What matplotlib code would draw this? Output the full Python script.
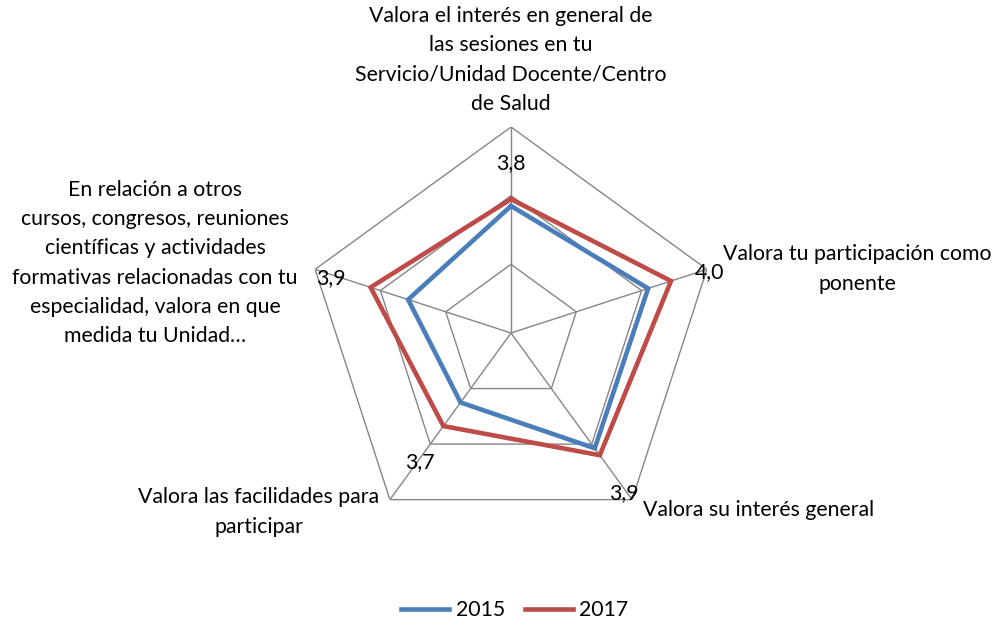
import numpy as np
import matplotlib
matplotlib.use("Agg")
import matplotlib.pyplot as plt

categories = [
    "Valora el interés en general de\nlas sesiones en tu\nServicio/Unidad Docente/Centro\nde Salud",
    "Valora tu participación como\nponente",
    "Valora su interés general",
    "Valora las facilidades para\nparticipar",
    "En relación a otros\ncursos, congresos, reuniones\ncientíficas y actividades\nformativas relacionadas con tu\nespecialidad, valora en que\nmedida tu Unidad…",
]
series_2015 = [3.74, 3.84, 3.83, 3.50, 3.63]
series_2017 = [3.78, 3.98, 3.88, 3.67, 3.86]
r_min, r_max = 3.0, 4.2
ring_ticks = [3.4, 3.8, 4.2]

W, H = 1002, 625
plt.rcParams['font.family'] = ['Lato', 'DejaVu Sans']
fig = plt.figure(figsize=(W / 100, H / 100), dpi=100)

cx, cy, R = 511, 333, 206
ax = fig.add_axes([(cx - R) / W, (H - cy - R) / H, 2 * R / W, 2 * R / H], polar=True)
ax.set_theta_offset(np.pi / 2)
ax.set_theta_direction(-1)
ax.set_ylim(r_min, r_max)
ax.axis('off')

n = len(categories)
theta = np.linspace(0, 2 * np.pi, n, endpoint=False)
theta_c = np.append(theta, theta[0])
grid_col = '#868686'
for t in ring_ticks:
    ax.plot(theta_c, [t] * (n + 1), color=grid_col, lw=1.0, zorder=1)
for th in theta:
    ax.plot([th, th], [r_min, r_max], color=grid_col, lw=1.0, zorder=1)

blue, red = '#4A7EBB', '#BE4B48'
ax.plot(theta_c, series_2015 + series_2015[:1], color=blue, lw=3.3, zorder=3,
        solid_joinstyle='miter', label='2015')
ax.plot(theta_c, series_2017 + series_2017[:1], color=red, lw=3.3, zorder=3,
        solid_joinstyle='miter', label='2017')

# category labels (pixel centres)
cat_pos = [(511, 60), (857, 269), (759, 510), (259, 512), (155, 263)]
fs = 15.3
for txt, (x, y) in zip(categories, cat_pos):
    fig.text(x / W, 1 - y / H, txt, ha='center', va='center', fontsize=fs,
             linespacing=1.58, color='#000000')

# data labels of 2017
lab_pos = [(511, 163), (710, 272), (624, 493), (420, 462), (331, 278)]
for v, (x, y) in zip(series_2017, lab_pos):
    fig.text(x / W, 1 - y / H, f"{v:.1f}".replace('.', ','), ha='center', va='center',
             fontsize=fs, color='#000000')

leg = fig.legend(loc='center', bbox_to_anchor=(515 / W, 1 - 610 / H), ncol=2,
                 frameon=False, fontsize=fs, handlelength=2.26, columnspacing=0.94,
                 handletextpad=0.3)
for l in leg.get_lines():
    l.set_linewidth(3.3)

fig.savefig('out.png', dpi=100)
